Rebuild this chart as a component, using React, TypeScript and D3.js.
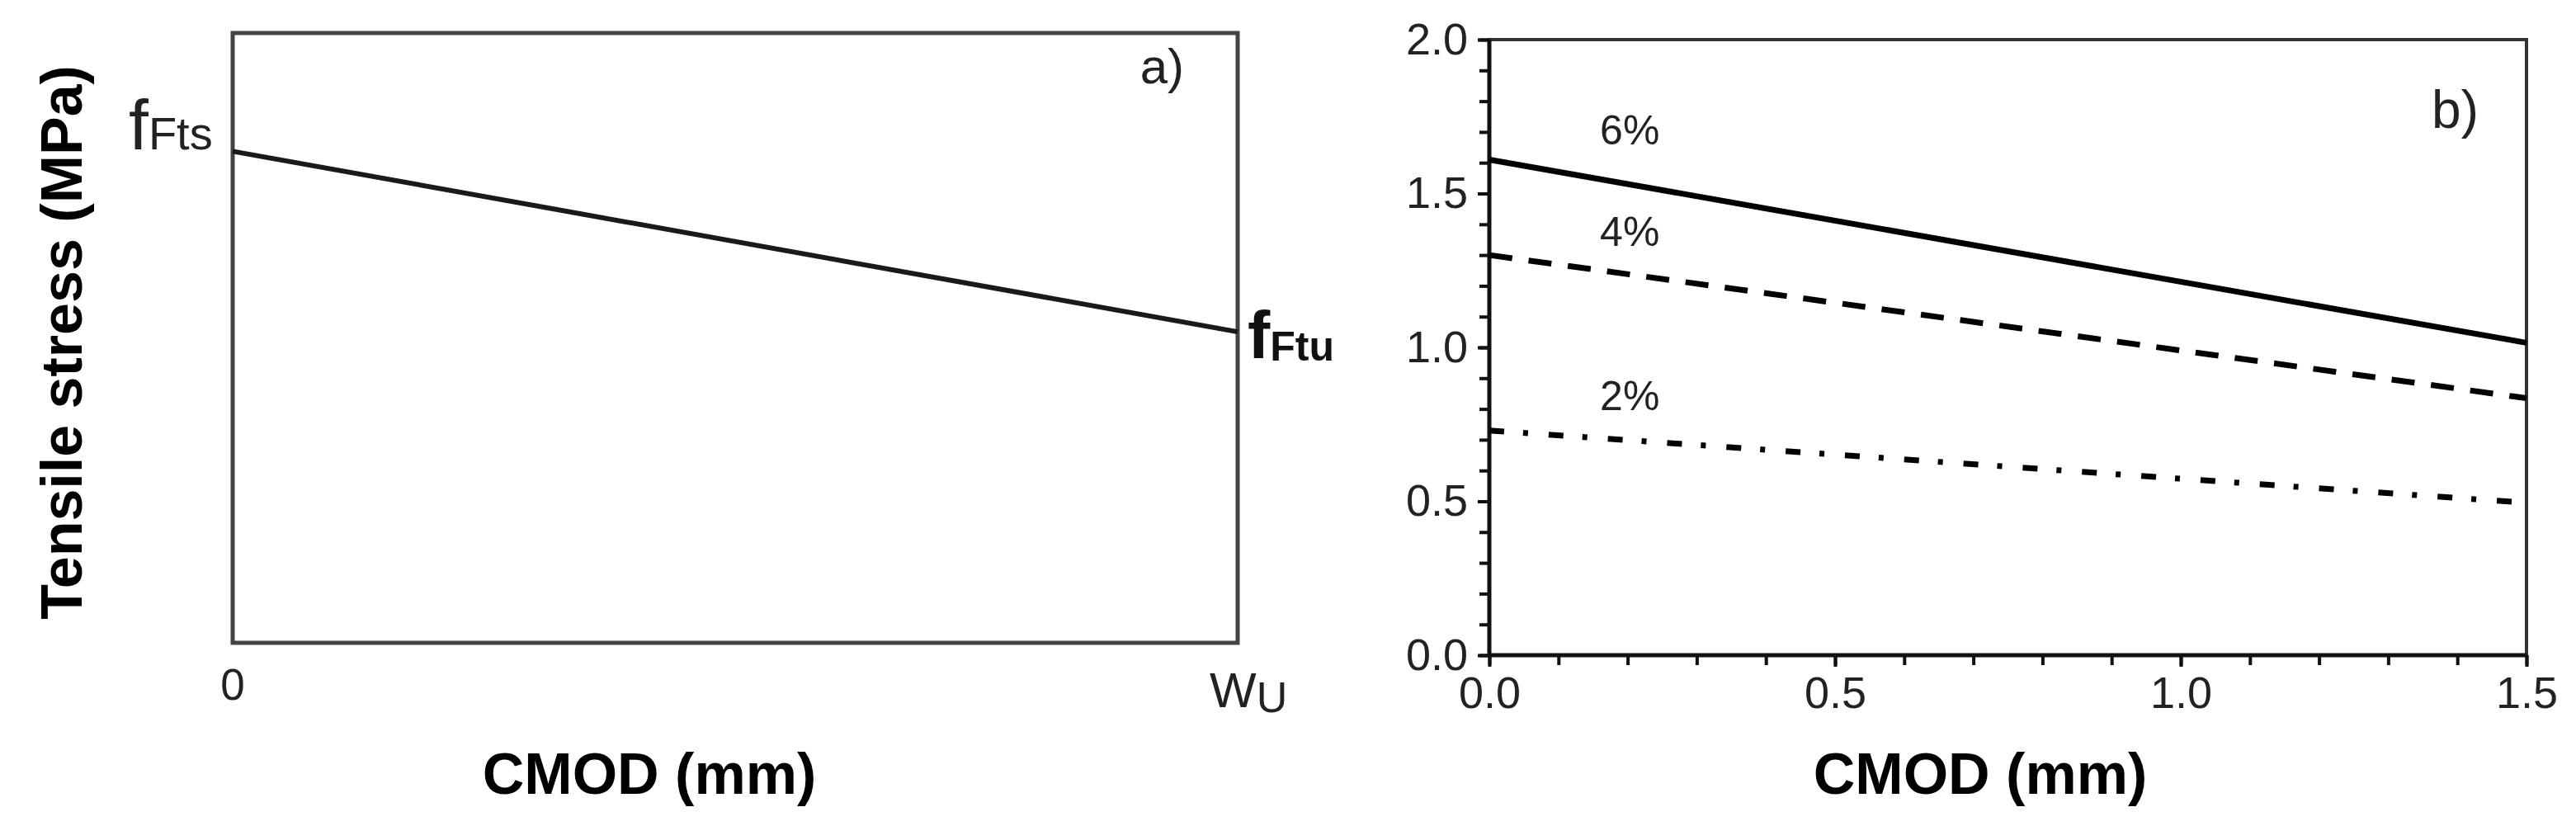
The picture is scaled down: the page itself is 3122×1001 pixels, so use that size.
import React, { useEffect, useRef } from "react";
import * as d3 from "d3";

// ---- Panel a (schematic) ----
const aX = [0, 1]; // 0 .. w_u
const aStress = [0.806, 0.51]; // fFts -> fFtu (relative)

// ---- Panel b ----
const cmod = [0, 1.5];
const fiber6 = [1.61, 1.015];
const fiber4 = [1.3, 0.835];
const fiber2 = [0.73, 0.495];
const fiberLabels = ["6%", "4%", "2%"];
const fiberLabelX = [0.16, 0.16, 0.16];
const fiberLabelY = [1.66, 1.33, 0.795];
const yTicksB = [0, 0.5, 1.0, 1.5, 2.0];
const xTicksB = [0, 0.5, 1.0, 1.5];
const yMinorB = d3.range(0, 2.0001, 0.1);
const xMinorB = d3.range(0, 1.5001, 0.1);

const W = 3122;
const H = 1001;

const A = { left: 282, right: 1500, top: 40, bottom: 779 };
const B = { left: 1805, right: 3062, top: 48, bottom: 794 };

const sans = "'Liberation Sans', Arial, sans-serif";
const narrow = "'Liberation Sans Narrow', 'Liberation Sans', Arial, sans-serif";

export default function App() {
  const yAxisRef = useRef<SVGGElement>(null);
  const xAxisRef = useRef<SVGGElement>(null);
  const yMinorRef = useRef<SVGGElement>(null);
  const xMinorRef = useRef<SVGGElement>(null);

  const ax = d3.scaleLinear().domain([0, 1]).range([A.left, A.right]);
  const ay = d3.scaleLinear().domain([0, 1]).range([A.bottom, A.top]);

  const bx = d3.scaleLinear().domain([0, 1.5]).range([B.left, B.right]);
  const by = d3.scaleLinear().domain([0, 2.0]).range([B.bottom, B.top]);

  const lineA = d3
    .line<number>()
    .x((_, i) => ax(aX[i]))
    .y((d) => ay(d));
  const lineB = d3
    .line<number>()
    .x((_, i) => bx(cmod[i]))
    .y((d) => by(d));

  useEffect(() => {
    const fmt = d3.format(".1f");
    const style = (g: d3.Selection<SVGGElement, unknown, null, undefined>) => {
      g.select(".domain").remove();
      g.selectAll(".tick line").attr("stroke", "#111").attr("stroke-width", 4);
      g.selectAll(".tick text")
        .attr("fill", "#222")
        .style("font-family", sans)
        .style("font-size", "54px");
    };
    const yA = d3.select(yAxisRef.current!);
    yA.call(
      d3.axisLeft(by).tickValues(yTicksB).tickFormat((d) => fmt(d as number)).tickSize(14).tickPadding(12)
    );
    style(yA);
    const xA = d3.select(xAxisRef.current!);
    xA.call(
      d3.axisBottom(bx).tickValues(xTicksB).tickFormat((d) => fmt(d as number)).tickSize(14).tickPadding(12)
    );
    style(xA);
    const yM = d3.select(yMinorRef.current!);
    yM.call(d3.axisLeft(by).tickValues(yMinorB).tickFormat(() => "").tickSize(12));
    style(yM);
    const xM = d3.select(xMinorRef.current!);
    xM.call(d3.axisBottom(bx).tickValues(xMinorB).tickFormat(() => "").tickSize(12));
    style(xM);
  }, []);

  const dashes = ["none", "28 20", "18 23 6 25"];
  const widths = [7, 7, 7];
  const series = [fiber6, fiber4, fiber2];

  return (
    <svg
      width={W}
      height={H}
      style={{ position: "absolute", left: 0, top: 0, background: "#fff" }}
    >
      <rect x={0} y={0} width={W} height={H} fill="#fff" />

      {/* ---------- Panel a ---------- */}
      <rect
        x={A.left}
        y={A.top}
        width={A.right - A.left}
        height={A.bottom - A.top}
        fill="none"
        stroke="#444"
        strokeWidth={5}
      />
      <path d={lineA(aStress) || ""} fill="none" stroke="#1a1a1a" strokeWidth={6} />
      <text x={1435} y={101} textAnchor="end" fontFamily={sans} fontSize={60} fill="#222">
        a)
      </text>
      <text x={156} y={181} fontFamily={narrow} fill="#222">
        <tspan fontSize={86}>f</tspan>
        <tspan fontSize={56}>Fts</tspan>
      </text>
      <text x={1512} y={434} fontFamily={sans} fontWeight="bold" fill="#111">
        <tspan fontSize={82}>f</tspan>
        <tspan fontSize={50} dy={3}>Ftu</tspan>
      </text>
      <text x={ax(0)} y={848} textAnchor="middle" fontFamily={sans} fontSize={53} fill="#222">
        0
      </text>
      <text x={1466} y={857} fontFamily={sans} fill="#222">
        <tspan fontSize={60}>W</tspan>
        <tspan fontSize={52} dy={6}>U</tspan>
      </text>
      <text
        x={787}
        y={962}
        textAnchor="middle"
        fontFamily={sans}
        fontWeight="bold"
        fontSize={70}
        fill="#000"
      >
        CMOD (mm)
      </text>
      <text
        transform={`translate(99,${415}) rotate(-90)`}
        textAnchor="middle"
        fontFamily={sans}
        fontWeight="bold"
        fontSize={70}
        fill="#000"
      >
        Tensile stress (MPa)
      </text>

      {/* ---------- Panel b ---------- */}
      <rect
        x={B.left}
        y={B.top}
        width={B.right - B.left}
        height={B.bottom - B.top}
        fill="none"
        stroke="#333"
        strokeWidth={4}
      />
      <g ref={yMinorRef} transform={`translate(${B.left},0)`} />
      <g ref={xMinorRef} transform={`translate(0,${B.bottom})`} />
      <g ref={yAxisRef} transform={`translate(${B.left},0)`} />
      <g ref={xAxisRef} transform={`translate(0,${B.bottom})`} />
      <line x1={B.left} x2={B.left} y1={B.top} y2={B.bottom} stroke="#111" strokeWidth={5} />
      <line x1={B.left} x2={B.right} y1={B.bottom} y2={B.bottom} stroke="#111" strokeWidth={5} />

      {series.map((s, i) => (
        <path
          key={i}
          d={lineB(s) || ""}
          fill="none"
          stroke="#000"
          strokeWidth={widths[i]}
          strokeDasharray={dashes[i]}
        />
      ))}
      {fiberLabels.map((t, i) => (
        <text
          key={t}
          x={bx(fiberLabelX[i])}
          y={by(fiberLabelY[i])}
          fontFamily={sans}
          fontSize={50}
          fill="#222"
        >
          {t}
        </text>
      ))}
      <text x={3004} y={155} textAnchor="end" fontFamily={sans} fontSize={64} fill="#222">
        b)
      </text>
      <text
        x={2400}
        y={962}
        textAnchor="middle"
        fontFamily={sans}
        fontWeight="bold"
        fontSize={70}
        fill="#000"
      >
        CMOD (mm)
      </text>
    </svg>
  );
}
